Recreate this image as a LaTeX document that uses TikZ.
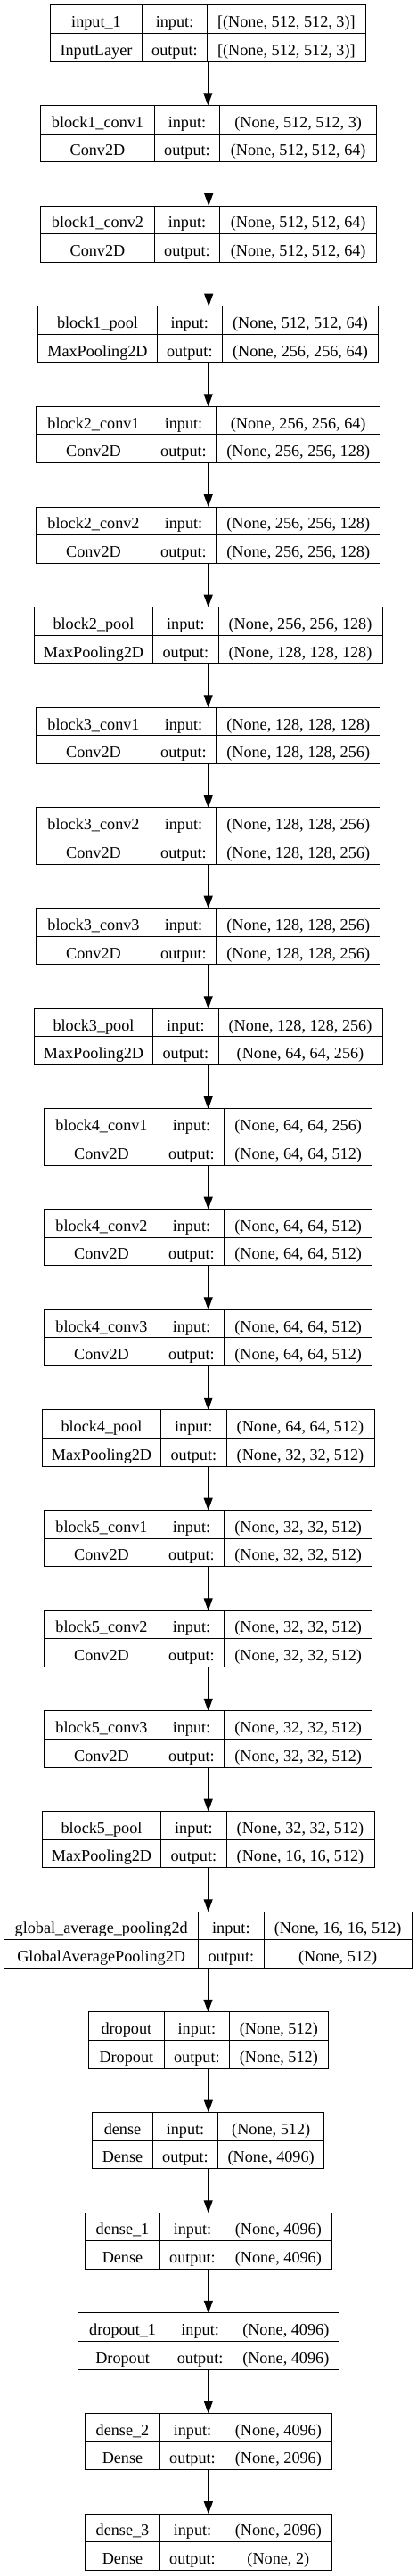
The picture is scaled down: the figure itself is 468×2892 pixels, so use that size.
\documentclass[tikz,border=0pt]{standalone}
\usepackage{fontspec}
\setmainfont{Liberation Serif}
\usetikzlibrary{arrows.meta}
\tikzset{
  box/.style={draw=black, line width=1pt, inner sep=0pt, outer sep=0pt, fill=white},
  rule/.style={draw=black, line width=1pt},
  lbl/.style={anchor=base, inner sep=0pt, font=\fontsize{18.2pt}{22pt}\selectfont},
  arr/.style={draw=black, line width=1pt, -{Triangle[length=14pt,width=10pt]}}
}
\newcommand\layer[9]{%
  \pgfmathsetmacro\lyT{5.7+#1*112.66}%
  \pgfmathsetmacro\lyM{\lyT+31.65}%
  \pgfmathsetmacro\lyB{\lyT+63.3}%
  \pgfmathsetmacro\lyW{#5-#2}%
  \pgfmathsetmacro\lyX{(#2+#5)/2}%
  \node[box, minimum width=\lyW pt, minimum height=63.3pt] (n#1) at (\lyX,\lyM) {};
  \draw[rule] (#2,\lyM) -- (#5,\lyM);
  \draw[rule] (#3,\lyT) -- (#3,\lyB);
  \draw[rule] (#4,\lyT) -- (#4,\lyB);
  \pgfmathsetmacro\lyBA{\lyT+24.7}%
  \pgfmathsetmacro\lyBB{\lyM+24.7}%
  \pgfmathsetmacro\lyXa{(#2+#3)/2}%
  \pgfmathsetmacro\lyXb{(#3+#4)/2}%
  \pgfmathsetmacro\lyXc{(#4+#5)/2}%
  \node[lbl] (n#1-name) at (\lyXa,\lyBA) {#6};
  \node[lbl] (n#1-class) at (\lyXa,\lyBB) {#7};
  \node[lbl] (n#1-inl) at (\lyXb,\lyBA) {input:};
  \node[lbl] (n#1-outl) at (\lyXb,\lyBB) {output:};
  \node[lbl] (n#1-in) at (\lyXc,\lyBA) {#8};
  \node[lbl] (n#1-out) at (\lyXc,\lyBB) {#9};
}
\begin{document}
\begin{tikzpicture}[x=1pt,y=-1pt]
\fill[white] (0,0) rectangle (468,2892);
\useasboundingbox (0,0) rectangle (468,2892);
\layer{0}{56.7}{159.3}{232.7}{410}{input\_1}{InputLayer}{[(None, 512, 512, 3)]}{[(None, 512, 512, 3)]}
\layer{1}{45.7}{173.3}{246.7}{422.7}{block1\_conv1}{Conv2D}{(None, 512, 512, 3)}{(None, 512, 512, 64)}
\layer{2}{45.7}{173.3}{246.7}{422.7}{block1\_conv2}{Conv2D}{(None, 512, 512, 64)}{(None, 512, 512, 64)}
\layer{3}{42.7}{176.3}{249.3}{424.7}{block1\_pool}{MaxPooling2D}{(None, 512, 512, 64)}{(None, 256, 256, 64)}
\layer{4}{40.7}{169.3}{242.7}{426.7}{block2\_conv1}{Conv2D}{(None, 256, 256, 64)}{(None, 256, 256, 128)}
\layer{5}{40.7}{169.3}{242.7}{426.7}{block2\_conv2}{Conv2D}{(None, 256, 256, 128)}{(None, 256, 256, 128)}
\layer{6}{38.3}{171.7}{245}{429}{block2\_pool}{MaxPooling2D}{(None, 256, 256, 128)}{(None, 128, 128, 128)}
\layer{7}{40.7}{169.3}{242.7}{426.7}{block3\_conv1}{Conv2D}{(None, 128, 128, 128)}{(None, 128, 128, 256)}
\layer{8}{40.7}{169.3}{242.7}{426.7}{block3\_conv2}{Conv2D}{(None, 128, 128, 256)}{(None, 128, 128, 256)}
\layer{9}{40.7}{169.3}{242.7}{426.7}{block3\_conv3}{Conv2D}{(None, 128, 128, 256)}{(None, 128, 128, 256)}
\layer{10}{38.3}{171.7}{245}{429}{block3\_pool}{MaxPooling2D}{(None, 128, 128, 256)}{(None, 64, 64, 256)}
\layer{11}{49.7}{178.3}{251.7}{417.7}{block4\_conv1}{Conv2D}{(None, 64, 64, 256)}{(None, 64, 64, 512)}
\layer{12}{49.7}{178.3}{251.7}{417.7}{block4\_conv2}{Conv2D}{(None, 64, 64, 512)}{(None, 64, 64, 512)}
\layer{13}{49.7}{178.3}{251.7}{417.7}{block4\_conv3}{Conv2D}{(None, 64, 64, 512)}{(None, 64, 64, 512)}
\layer{14}{47.3}{180.7}{254}{420}{block4\_pool}{MaxPooling2D}{(None, 64, 64, 512)}{(None, 32, 32, 512)}
\layer{15}{49.7}{178.3}{251.7}{417.7}{block5\_conv1}{Conv2D}{(None, 32, 32, 512)}{(None, 32, 32, 512)}
\layer{16}{49.7}{178.3}{251.7}{417.7}{block5\_conv2}{Conv2D}{(None, 32, 32, 512)}{(None, 32, 32, 512)}
\layer{17}{49.7}{178.3}{251.7}{417.7}{block5\_conv3}{Conv2D}{(None, 32, 32, 512)}{(None, 32, 32, 512)}
\layer{18}{47.3}{180.7}{254}{420}{block5\_pool}{MaxPooling2D}{(None, 32, 32, 512)}{(None, 16, 16, 512)}
\layer{19}{4.7}{222.7}{296}{462.3}{global\_average\_pooling2d}{GlobalAveragePooling2D}{(None, 16, 16, 512)}{(None, 512)}
\layer{20}{99.7}{184}{257.7}{368}{dropout}{Dropout}{(None, 512)}{(None, 512)}
\layer{21}{103.7}{171.3}{244.7}{363.7}{dense}{Dense}{(None, 512)}{(None, 4096)}
\layer{22}{95.7}{179.3}{252.7}{372}{dense\_1}{Dense}{(None, 4096)}{(None, 4096)}
\layer{23}{87.3}{188}{261.3}{380.3}{dropout\_1}{Dropout}{(None, 4096)}{(None, 4096)}
\layer{24}{95.7}{179.3}{252.7}{372}{dense\_2}{Dense}{(None, 4096)}{(None, 2096)}
\layer{25}{95.7}{179.3}{252.7}{372}{dense\_3}{Dense}{(None, 2096)}{(None, 2)}
\foreach \i [evaluate=\i as \j using int(\i+1)] in {0,...,24}
  \draw[arr] (n\i.south) -- (n\i.south |- n\j.north);
\end{tikzpicture}
\end{document}
